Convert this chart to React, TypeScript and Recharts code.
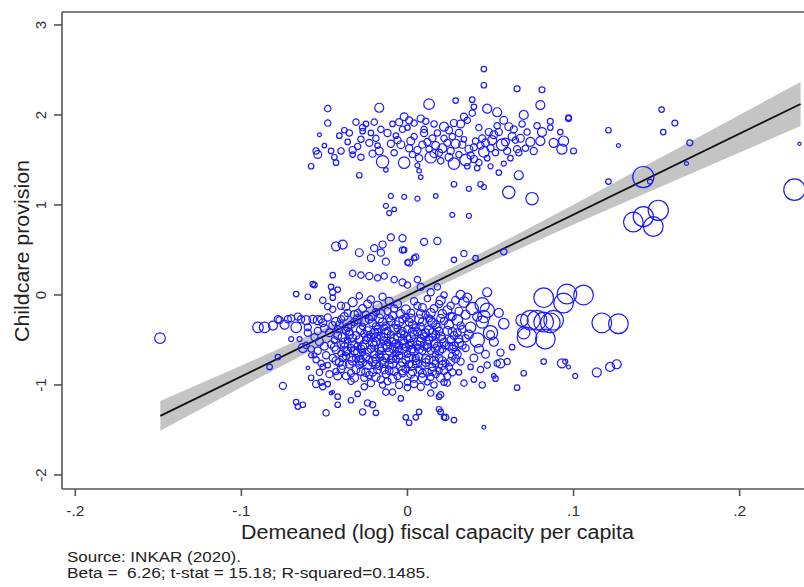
import React from 'react'
import {
  ComposedChart,
  Scatter,
  Line,
  Area,
  XAxis,
  YAxis,
  ZAxis,
  ReferenceLine,
} from 'recharts'

// [x, y, weight] — weight drives bubble area
const upperCluster: [number, number, number][] = [
  [-0.048, 2.07, 80], [-0.017, 2.08, 160], [-0.048, 1.91, 80], [0.013, 2.12, 220], [0.029, 2.16, 60],
  [0.046, 2.33, 60], [0.046, 2.51, 60], [0.066, 2.29, 70], [0.081, 2.28, 70], [0.08, 2.11, 160],
  [0.054, 2.03, 160], [0.048, 2.07, 160], [0.07, 2.0, 160], [0.086, 1.93, 70], [0.097, 1.96, 70],
  [0.1, 1.6, 70], [0.094, 1.71, 200], [0.093, 1.62, 200], [0.088, 1.69, 160], [0.08, 1.71, 160],
  [0.081, 1.81, 160], [0.086, 1.86, 60], [0.092, 1.81, 60], [0.072, 1.81, 80], [0.071, 1.63, 80],
  [0.067, 1.33, 160], [0.061, 1.14, 300], [0.075, 1.07, 300], [0.037, 0.88, 50], [0.027, 0.89, 50],
  [0.028, 1.23, 60], [0.037, 1.18, 50], [0.044, 1.23, 60], [0.046, 1.2, 50], [-0.01, 1.1, 50],
  [-0.002, 1.09, 50], [0.006, 1.07, 50], [-0.013, 0.99, 50], [-0.011, 0.91, 50], [-0.029, 1.33, 60],
  [-0.058, 1.43, 60], [-0.043, 1.47, 60], [-0.053, 1.78, 30], [-0.055, 1.6, 80], [-0.054, 1.56, 120],
  [-0.046, 1.6, 60], [-0.041, 1.77, 60], [-0.038, 1.83, 60], [-0.035, 1.8, 80], [-0.031, 1.92, 80],
  [-0.027, 1.86, 80], [-0.027, 1.82, 60], [-0.025, 1.9, 60], [-0.02, 1.92, 80], [-0.016, 1.84, 80],
  [-0.012, 1.8, 100], [-0.009, 1.9, 60], [-0.005, 1.92, 100], [-0.002, 1.98, 120], [0.001, 1.94, 100],
  [0.004, 1.91, 80], [0.008, 1.96, 100], [0.011, 1.93, 80], [-0.028, 1.73, 80], [-0.033, 1.61, 100],
  [-0.033, 1.56, 60], [-0.028, 1.53, 80], [-0.023, 1.69, 100], [-0.019, 1.74, 80], [-0.017, 1.6, 120],
  [-0.015, 1.48, 300], [-0.013, 1.39, 40], [-0.01, 1.68, 100], [-0.006, 1.72, 100], [-0.004, 1.67, 120],
  [-0.002, 1.47, 260], [0.001, 1.63, 100], [0.004, 1.76, 80], [0.006, 1.61, 100], [0.009, 1.67, 100],
  [0.01, 1.8, 100], [0.01, 1.84, 80], [0.006, 1.44, 50], [0.007, 1.38, 40], [0.008, 1.31, 40],
  [0.014, 1.53, 260], [0.016, 1.57, 120], [0.018, 1.8, 80], [0.022, 1.87, 160], [0.022, 1.74, 80],
  [0.024, 1.69, 100], [0.025, 1.53, 120], [0.028, 1.46, 260], [0.028, 1.91, 100], [0.032, 1.9, 120],
  [0.034, 1.98, 100], [0.036, 1.94, 80], [0.039, 2.17, 60], [0.04, 2.09, 60], [0.039, 2.02, 80],
  [0.033, 1.67, 100], [0.035, 1.5, 260], [0.037, 1.62, 120], [0.04, 1.64, 100], [0.04, 1.51, 100],
  [0.042, 1.41, 60], [0.043, 1.47, 80], [0.045, 1.74, 100], [0.046, 1.59, 220], [0.049, 1.81, 100],
  [0.052, 1.78, 120], [0.055, 1.81, 100], [0.057, 1.67, 260], [0.058, 1.94, 120], [0.061, 1.87, 120],
  [0.063, 1.76, 120], [0.065, 1.72, 80], [0.066, 1.62, 100], [0.067, 1.58, 80], [0.097, 1.97, 60],
  [-0.036, 1.7, 60], [-0.03, 1.65, 80], [-0.021, 1.57, 100], [-0.018, 1.66, 60], [-0.008, 1.58, 80],
  [-0.007, 1.77, 60], [-0.003, 1.84, 80], [0.002, 1.71, 120], [0.003, 1.56, 80], [0.012, 1.7, 100],
  [0.013, 1.62, 80], [0.015, 1.74, 100], [0.017, 1.66, 120], [0.019, 1.58, 100], [0.02, 1.49, 80],
  [0.021, 1.63, 160], [0.026, 1.6, 100], [0.027, 1.76, 80], [0.029, 1.68, 160], [0.031, 1.56, 80],
  [0.031, 1.8, 100], [0.034, 1.73, 60], [0.038, 1.55, 100], [0.041, 1.71, 80], [0.044, 1.66, 100],
  [0.047, 1.69, 120], [0.048, 1.52, 60], [0.05, 1.63, 100], [0.051, 1.72, 160], [0.053, 1.58, 80],
  [0.054, 1.88, 80], [0.059, 1.7, 120], [0.06, 1.6, 100], [0.062, 1.52, 60], [0.064, 1.84, 100],
  [0.068, 1.74, 120], [0.069, 1.9, 80], [0.074, 1.7, 160], [0.076, 1.6, 100], [0.078, 1.88, 80],
  [-0.044, 1.53, 60], [-0.05, 1.66, 40], [-0.04, 1.6, 80], [-0.022, 1.8, 60], [0.0, 1.86, 60],
  [0.007, 1.52, 100], [0.016, 1.9, 80], [0.025, 1.83, 100], [0.043, 1.86, 80], [0.036, 1.43, 60],
  [0.05, 1.43, 50], [0.058, 1.46, 50], [0.055, 1.36, 60], [-0.008, 0.95, 40], [0.017, 1.1, 40],
]

const middleBand: [number, number, number][] = [
  [-0.043, 0.54, 160], [-0.039, 0.56, 160], [-0.029, 0.47, 120], [-0.02, 0.52, 100], [-0.015, 0.56, 100],
  [-0.01, 0.64, 100], [-0.003, 0.63, 100], [0.01, 0.59, 100], [0.018, 0.6, 100], [-0.022, 0.41, 100],
  [-0.016, 0.47, 100], [-0.013, 0.37, 100], [-0.003, 0.5, 80], [0.001, 0.36, 100], [0.005, 0.42, 80],
  [-0.002, 0.5, 60], [0.004, 0.41, 60], [0.0, 0.36, 60], [0.028, 0.39, 60], [0.034, 0.46, 80],
  [0.041, 0.41, 60], [0.058, 0.48, 80], [-0.033, 0.24, 80], [-0.028, 0.22, 80], [-0.023, 0.21, 100],
  [-0.018, 0.19, 80], [-0.014, 0.21, 80], [-0.008, 0.17, 80], [-0.003, 0.14, 100], [0.0, 0.11, 80],
  [0.006, 0.17, 80], [0.008, 0.09, 100], [0.014, 0.03, 100], [0.018, 0.09, 80], [-0.067, 0.01, 60],
  [-0.06, -0.02, 60], [-0.057, 0.12, 60], [-0.056, 0.11, 60], [-0.045, 0.22, 60], [-0.046, 0.09, 60],
  [-0.045, 0.03, 80], [-0.051, -0.06, 80], [-0.048, -0.13, 80], [-0.045, -0.03, 60], [-0.042, 0.06, 60],
]

const leftArm: [number, number, number][] = [
  [-0.149, -0.48, 220], [-0.09, -0.36, 220], [-0.086, -0.36, 220], [-0.081, -0.34, 160], [-0.078, -0.27, 100],
  [-0.077, -0.28, 100], [-0.074, -0.33, 160], [-0.072, -0.27, 100], [-0.07, -0.26, 100], [-0.067, -0.36, 220],
  [-0.066, -0.24, 100], [-0.064, -0.27, 100], [-0.061, -0.28, 160], [-0.06, -0.36, 100], [-0.057, -0.27, 120],
  [-0.054, -0.28, 160], [-0.052, -0.27, 100], [-0.051, -0.31, 120], [-0.07, -0.49, 50], [-0.065, -0.49, 50],
  [-0.061, -0.56, 80], [-0.063, -0.59, 160], [-0.058, -0.67, 50], [-0.056, -0.67, 50], [-0.078, -0.69, 60],
  [-0.083, -0.8, 60], [-0.06, -0.81, 25], [-0.052, -0.76, 80], [-0.051, -0.8, 60], [-0.048, -0.78, 60],
  [-0.075, -1.01, 100], [-0.055, -0.99, 100], [-0.052, -0.97, 80], [-0.051, -1.02, 80], [-0.048, -0.99, 60],
  [-0.046, -1.09, 25], [-0.045, -1.08, 25], [-0.067, -1.19, 60], [-0.066, -1.24, 60], [-0.063, -1.22, 60],
  [-0.049, -1.31, 80], [-0.042, -1.13, 60], [-0.06, -0.42, 100], [-0.056, -0.47, 100], [-0.053, -0.52, 120],
  [-0.058, -0.6, 80], [-0.054, -0.62, 100], [-0.05, -0.57, 120], [-0.049, -0.67, 100], [-0.055, -0.72, 80],
  [-0.047, -0.88, 100], [-0.053, -0.86, 80], [-0.058, -0.92, 60], [-0.05, -0.37, 120], [-0.054, -0.4, 100],
]

const lowerCore: [number, number, number][] = [
  [-0.04, -0.12, 100], [-0.033, -0.08, 160], [-0.027, -0.15, 120], [-0.022, -0.05, 100], [-0.018, -0.12, 160],
  [-0.012, -0.18, 100], [-0.006, -0.1, 120], [-0.001, -0.16, 160], [0.004, -0.07, 100], [0.009, -0.14, 120],
  [0.014, -0.2, 160], [0.019, -0.1, 100], [0.024, -0.17, 160], [0.029, -0.06, 120], [-0.036, -0.2, 100],
  [-0.045, -0.16, 80], [0.012, -0.04, 80], [-0.015, -0.02, 100], [-0.029, -0.01, 80], [0.022, 0.0, 80],
  [-0.048, -0.25, 100], [-0.043, -0.3, 160], [-0.038, -0.24, 120], [-0.034, -0.33, 100], [-0.03, -0.27, 160],
  [-0.025, -0.22, 100], [-0.021, -0.31, 120], [-0.017, -0.26, 160], [-0.013, -0.34, 100], [-0.009, -0.23, 120],
  [-0.005, -0.3, 160], [-0.001, -0.25, 100], [0.003, -0.33, 120], [0.007, -0.27, 160], [0.011, -0.22, 100],
  [0.015, -0.31, 160], [0.02, -0.26, 120], [0.025, -0.33, 160], [0.03, -0.28, 220], [0.035, -0.22, 160],
  [-0.027, -0.35, 80], [-0.006, -0.37, 100], [0.018, -0.36, 120],
  [-0.047, -0.42, 120], [-0.042, -0.38, 100], [-0.039, -0.47, 160], [-0.035, -0.41, 100], [-0.031, -0.45, 120],
  [-0.028, -0.39, 160], [-0.024, -0.48, 100], [-0.02, -0.42, 160], [-0.016, -0.46, 120], [-0.012, -0.4, 100],
  [-0.008, -0.49, 160], [-0.004, -0.43, 120], [0.0, -0.38, 100], [0.002, -0.47, 160], [0.006, -0.41, 120],
  [0.01, -0.46, 100], [0.013, -0.39, 160], [0.017, -0.44, 120], [0.021, -0.49, 100], [0.024, -0.4, 160],
  [0.028, -0.45, 120], [0.033, -0.38, 100], [0.037, -0.44, 160], [-0.044, -0.5, 80], [-0.014, -0.36, 80],
  [0.008, -0.35, 100],
  [-0.046, -0.55, 100], [-0.043, -0.61, 120], [-0.038, -0.53, 160], [-0.034, -0.59, 100], [-0.03, -0.64, 120],
  [-0.026, -0.55, 160], [-0.022, -0.6, 100], [-0.019, -0.52, 120], [-0.015, -0.58, 160], [-0.011, -0.63, 100],
  [-0.007, -0.54, 120], [-0.003, -0.6, 160], [0.001, -0.56, 100], [0.004, -0.63, 120], [0.008, -0.52, 160],
  [0.012, -0.59, 100], [0.016, -0.54, 120], [0.019, -0.62, 160], [0.023, -0.56, 100], [0.027, -0.6, 120],
  [0.031, -0.53, 160], [0.035, -0.59, 100], [-0.04, -0.65, 80], [-0.017, -0.66, 100], [0.006, -0.58, 80],
  [-0.009, -0.51, 80],
  [-0.045, -0.7, 100], [-0.041, -0.75, 120], [-0.037, -0.68, 100], [-0.033, -0.73, 160], [-0.029, -0.78, 100],
  [-0.025, -0.69, 120], [-0.021, -0.74, 160], [-0.017, -0.79, 100], [-0.013, -0.7, 120], [-0.009, -0.76, 160],
  [-0.005, -0.67, 100], [-0.001, -0.72, 120], [0.003, -0.78, 160], [0.007, -0.69, 100], [0.011, -0.75, 120],
  [0.015, -0.8, 100], [0.019, -0.7, 120], [0.023, -0.76, 100], [0.027, -0.68, 120], [0.032, -0.74, 100],
  [-0.027, -0.64, 80], [0.0, -0.66, 80],
  [-0.043, -0.85, 80], [-0.037, -0.9, 100], [-0.031, -0.83, 120], [-0.026, -0.92, 100], [-0.021, -0.86, 120],
  [-0.016, -0.94, 100], [-0.011, -0.84, 120], [-0.006, -0.9, 100], [-0.001, -0.82, 120], [0.004, -0.93, 100],
  [0.009, -0.87, 120], [0.014, -0.91, 100], [0.019, -0.84, 80], [0.024, -0.9, 100], [-0.034, -0.96, 80],
  [0.0, -0.97, 80], [0.012, -0.97, 60],
  [-0.025, -0.5, 100], [-0.02, -0.66, 100], [-0.014, -0.47, 100], [-0.01, -0.72, 100], [-0.005, -0.56, 100],
  [0.0, -0.49, 100], [0.005, -0.7, 100], [0.009, -0.62, 100], [-0.03, -0.57, 100], [-0.018, -0.38, 100],
  [-0.003, -0.4, 100], [0.013, -0.5, 100], [-0.012, -0.53, 80], [-0.007, -0.65, 80], [-0.023, -0.44, 80],
  [0.002, -0.53, 80], [-0.016, -0.69, 80], [0.017, -0.66, 80], [-0.036, -0.5, 80], [-0.028, -0.71, 80],
]

const lowerCoreFill: [number, number, number][] = [
  [-0.037, -0.13, 120], [-0.03, -0.2, 100], [-0.024, -0.1, 120], [-0.019, -0.19, 100], [-0.011, -0.07, 120],
  [-0.008, -0.15, 100], [0.002, -0.2, 120], [0.006, -0.12, 100], [0.016, -0.15, 120], [0.026, -0.12, 100],
  [0.031, -0.18, 120],
  [-0.045, -0.34, 120], [-0.04, -0.27, 100], [-0.036, -0.36, 120], [-0.032, -0.3, 100], [-0.023, -0.27, 120],
  [-0.019, -0.35, 100], [-0.015, -0.3, 120], [-0.011, -0.26, 100], [-0.007, -0.33, 120], [-0.003, -0.27, 100],
  [0.001, -0.3, 120], [0.005, -0.36, 100], [0.009, -0.3, 120], [0.013, -0.26, 100], [0.017, -0.33, 120],
  [0.022, -0.29, 100], [0.027, -0.24, 120], [0.032, -0.34, 100],
  [-0.042, -0.45, 120], [-0.037, -0.4, 100], [-0.033, -0.48, 120], [-0.026, -0.43, 100], [-0.022, -0.47, 120],
  [-0.018, -0.41, 100], [-0.014, -0.51, 120], [-0.01, -0.44, 100], [-0.006, -0.47, 120], [-0.002, -0.44, 100],
  [0.004, -0.44, 120], [0.008, -0.48, 100], [0.011, -0.42, 120], [0.015, -0.47, 100], [0.019, -0.4, 120],
  [0.026, -0.5, 100], [0.03, -0.42, 120], [0.035, -0.48, 100],
  [-0.044, -0.58, 120], [-0.04, -0.55, 100], [-0.036, -0.62, 120], [-0.032, -0.55, 100], [-0.028, -0.6, 120],
  [-0.024, -0.63, 100], [-0.02, -0.56, 120], [-0.016, -0.62, 100], [-0.013, -0.56, 120], [-0.009, -0.6, 100],
  [-0.005, -0.62, 120], [-0.001, -0.58, 100], [0.003, -0.6, 120], [0.006, -0.55, 100], [0.01, -0.57, 120],
  [0.014, -0.62, 100], [0.018, -0.57, 120], [0.021, -0.6, 100], [0.025, -0.57, 120], [0.029, -0.63, 100],
  [0.033, -0.56, 120],
  [-0.043, -0.73, 120], [-0.039, -0.7, 100], [-0.035, -0.77, 120], [-0.031, -0.7, 100], [-0.027, -0.75, 120],
  [-0.023, -0.72, 100], [-0.019, -0.77, 120], [-0.015, -0.73, 100], [-0.011, -0.78, 120], [-0.007, -0.71, 100],
  [-0.003, -0.75, 120], [0.001, -0.77, 100], [0.005, -0.73, 120], [0.009, -0.78, 100], [0.013, -0.72, 120],
  [0.017, -0.76, 100], [0.021, -0.73, 120], [0.025, -0.8, 100], [0.029, -0.71, 120],
  [-0.04, -0.82, 120], [-0.034, -0.87, 100], [-0.028, -0.85, 120], [-0.023, -0.89, 100], [-0.018, -0.83, 120],
  [-0.013, -0.88, 100], [-0.008, -0.85, 120], [-0.003, -0.87, 100], [0.002, -0.88, 120], [0.007, -0.83, 100],
  [0.012, -0.86, 120], [0.017, -0.88, 100], [0.022, -0.84, 120], [0.027, -0.86, 100],
  [-0.022, -0.98, 100], [-0.012, -0.96, 100], [-0.005, -1.0, 100], [0.004, -0.99, 100], [0.016, -1.0, 80],
]

// densest part of the lower group
const lowerCoreDense: [number, number, number][] = [
  [-0.032, -0.22, 140], [-0.026, -0.29, 140], [-0.021, -0.24, 140], [-0.016, -0.21, 140], [-0.01, -0.29, 140],
  [-0.004, -0.21, 140], [0.002, -0.26, 140], [0.008, -0.21, 140], [0.014, -0.28, 140], [0.021, -0.21, 140],
  [-0.035, -0.44, 140], [-0.029, -0.5, 140], [-0.024, -0.4, 140], [-0.019, -0.47, 140], [-0.013, -0.43, 140],
  [-0.008, -0.38, 140], [-0.003, -0.5, 140], [0.003, -0.41, 140], [0.009, -0.44, 140], [0.015, -0.42, 140],
  [0.02, -0.46, 140], [0.027, -0.41, 140],
  [-0.038, -0.58, 140], [-0.032, -0.62, 140], [-0.027, -0.58, 140], [-0.021, -0.53, 140], [-0.017, -0.6, 140],
  [-0.012, -0.58, 140], [-0.006, -0.59, 140], [-0.002, -0.54, 140], [0.002, -0.62, 140], [0.007, -0.6, 140],
  [0.012, -0.55, 140], [0.017, -0.6, 140], [0.022, -0.53, 140], [0.028, -0.57, 140],
  [-0.039, -0.78, 140], [-0.034, -0.7, 140], [-0.029, -0.73, 140], [-0.024, -0.78, 140], [-0.019, -0.71, 140],
  [-0.014, -0.76, 140], [-0.009, -0.7, 140], [-0.004, -0.79, 140], [0.001, -0.7, 140], [0.006, -0.76, 140],
  [0.011, -0.71, 140], [0.016, -0.73, 140], [0.021, -0.78, 140], [0.026, -0.74, 140],
  [-0.032, -0.92, 140], [-0.025, -0.86, 140], [-0.019, -0.91, 140], [-0.014, -0.83, 140], [-0.009, -0.93, 140],
  [-0.003, -0.84, 140], [0.003, -0.85, 140], [0.009, -0.92, 140], [0.015, -0.85, 140], [0.02, -0.92, 140],
  [-0.041, -0.33, 120], [-0.037, -0.63, 120], [-0.042, -0.9, 120], [0.031, -0.49, 120], [0.03, -0.66, 120],
]

const lowerRight: [number, number, number][] = [
  [0.032, 0.0, 160], [0.036, -0.03, 160], [0.048, 0.03, 160], [0.045, -0.11, 400], [0.048, -0.17, 400],
  [0.042, -0.24, 160], [0.026, -0.24, 120], [0.05, -0.42, 400], [0.042, -0.5, 400], [0.052, -0.52, 160],
  [0.054, -0.76, 80], [0.048, -0.78, 80], [0.044, -0.83, 80], [0.038, -0.8, 60], [0.031, -0.86, 60],
  [0.069, -0.28, 300], [0.07, -0.42, 300], [0.034, -0.08, 220], [0.039, -0.15, 300], [0.045, -0.3, 300],
  [0.038, -0.36, 220], [0.043, -0.6, 160], [0.047, -0.66, 120], [0.04, -0.7, 120], [0.055, -0.2, 160],
  [0.058, -0.32, 220], [0.056, -0.64, 100], [0.06, -0.74, 80], [0.063, -0.58, 60], [0.052, -0.9, 40],
  [0.02, -0.06, 160], [0.046, -0.24, 300], [0.05, -0.44, 120], [0.053, -0.93, 60],
]

const lowerTail: [number, number, number][] = [
  [0.001, -1.42, 60], [0.005, -1.36, 60], [0.007, -1.3, 60], [0.02, -1.3, 60], [0.023, -1.36, 80],
  [0.028, -1.39, 60], [0.046, -1.47, 30], [-0.027, -1.3, 80], [-0.024, -1.2, 80], [-0.021, -1.22, 80],
  [-0.042, -1.22, 60], [-0.034, -1.17, 60], [-0.013, -1.08, 80], [-0.009, -1.08, 80], [0.0, -1.03, 80],
  [0.014, -1.09, 80], [0.02, -1.11, 80], [0.024, -0.98, 80], [0.034, -0.98, 80], [0.04, -0.94, 60],
  [0.045, -1.0, 80], [0.019, -1.13, 60], [0.022, -0.97, 80], [-0.019, -1.31, 60], [-0.004, -1.15, 60],
  [-0.015, -1.0, 80], [0.008, -1.02, 100], [-0.026, -1.02, 80], [-0.03, -1.1, 60], [0.019, -1.27, 60],
  [0.022, -1.36, 60], [-0.001, -1.36, 60],
]

const bigCircles: [number, number, number][] = [
  [0.082, -0.03, 760], [0.094, -0.09, 760], [0.096, 0.01, 760], [0.106, 0.0, 760], [0.074, -0.28, 760],
  [0.078, -0.28, 760], [0.082, -0.3, 760], [0.088, -0.28, 760], [0.086, -0.31, 760], [0.072, -0.47, 760],
  [0.083, -0.49, 760], [0.117, -0.31, 760], [0.127, -0.32, 760], [0.136, 0.81, 760], [0.142, 0.87, 800],
  [0.151, 0.94, 800], [0.148, 0.76, 760], [0.142, 1.31, 880], [0.233, 1.17, 900],
]

const sparseRight: [number, number, number][] = [
  [0.082, -0.74, 60], [0.093, -0.76, 160], [0.095, -0.74, 50], [0.097, -0.8, 30], [0.07, -0.87, 60],
  [0.101, -0.9, 50], [0.114, -0.86, 160], [0.122, -0.8, 160], [0.126, -0.77, 160], [0.066, -1.03, 60],
  [0.056, -0.76, 160], [0.121, 1.83, 60], [0.153, 2.06, 60], [0.161, 1.91, 70], [0.154, 1.81, 60],
  [0.127, 1.66, 30], [0.17, 1.69, 70], [0.168, 1.46, 30], [0.236, 1.68, 20], [0.121, 1.26, 60],
  [0.146, 1.26, 50],
]

// fitted line and 95% band
const fitX = [-0.1488, 0.2367]
const fitY = [-1.344, 2.122]
const bandX = [-0.1488, -0.1, -0.05, 0, 0.05, 0.1, 0.15, 0.2367]
const bandLo = [-1.509, -1.025, -0.541, -0.071, 0.368, 0.783, 1.182, 1.877]
const bandHi = [-1.179, -0.785, -0.371, 0.059, 0.518, 1.003, 1.502, 2.367]

const xTicks = [-0.2, -0.1, 0, 0.1, 0.2]
const xTickLabels = ['-.2', '-.1', '0', '.1', '.2']
const yTicks = [-2, -1, 0, 1, 2, 3]

const FONT = "'Liberation Sans', Arial, Helvetica, sans-serif"
const AXIS = '#555'

const points = [
  ...upperCluster, ...middleBand, ...leftArm, ...lowerCore, ...lowerCoreFill, ...lowerCoreDense,
  ...lowerRight, ...lowerTail, ...bigCircles, ...sparseRight,
].map(([x, y, w]) => ({ x, y, w }))

const bandData = bandX.map((x, i) => ({ x, band: [bandLo[i], bandHi[i]] }))
const fitData = fitX.map((x, i) => ({ x, y: fitY[i] }))

function YTick(props: any) {
  const { x, y, payload } = props
  const bx = x - 6
  return (
    <text
      x={bx}
      y={y}
      transform={`rotate(-90, ${bx}, ${y})`}
      textAnchor="middle"
      fontSize={15}
      fontFamily={FONT}
      fill="#333"
    >
      {payload.value}
    </text>
  )
}

export default function App() {
  return (
    <div style={{ position: 'absolute', left: 0, top: 0, width: 804, height: 587, overflow: 'hidden', background: '#fff' }}>
      <ComposedChart width={840} height={587} margin={{ top: 12, right: 9, bottom: 0, left: 0 }}>
        <XAxis
          type="number"
          dataKey="x"
          domain={[-0.208, 0.255]}
          ticks={xTicks}
          tickFormatter={(v: number) => xTickLabels[xTicks.indexOf(v)] ?? String(v)}
          allowDataOverflow
          height={98}
          tickSize={7}
          tickMargin={9}
          tick={{ fontSize: 15.5, fontFamily: FONT, fill: '#333' }}
          axisLine={{ stroke: AXIS, strokeWidth: 1.6 }}
          tickLine={{ stroke: AXIS, strokeWidth: 1.6 }}
        />
        <YAxis
          type="number"
          dataKey="y"
          domain={[-2.156, 3.144]}
          ticks={yTicks}
          allowDataOverflow
          width={62}
          tickSize={8}
          tick={<YTick />}
          axisLine={{ stroke: AXIS, strokeWidth: 1.6 }}
          tickLine={{ stroke: AXIS, strokeWidth: 1.6 }}
        />
        <ZAxis type="number" dataKey="w" domain={[0, 1000]} range={[0, 400]} />
        <ReferenceLine y={3.144} stroke={AXIS} strokeWidth={1.6} />
        <Area
          data={bandData}
          dataKey="band"
          type="linear"
          fill="#c4c4c4"
          fillOpacity={1}
          stroke="none"
          isAnimationActive={false}
        />
        <Scatter
          data={points}
          fill="none"
          stroke="#1a1aff"
          strokeWidth={1.2}
          isAnimationActive={false}
        />
        <Line
          data={fitData}
          dataKey="y"
          type="linear"
          stroke="#111"
          strokeWidth={1.8}
          dot={false}
          isAnimationActive={false}
        />
      </ComposedChart>
      <svg width={804} height={587} style={{ position: 'absolute', left: 0, top: 0, pointerEvents: 'none' }}>
        <text
          x={29}
          y={251}
          transform="rotate(-90, 29, 251)"
          textAnchor="middle"
          fontSize={20.5}
          fontFamily={FONT}
          fill="#222"
          textLength={182}
          lengthAdjust="spacingAndGlyphs"
        >
          Childcare provision
        </text>
        <text
          x={437.5}
          y={539}
          textAnchor="middle"
          fontSize={20}
          fontFamily={FONT}
          fill="#222"
          textLength={393}
          lengthAdjust="spacingAndGlyphs"
        >
          Demeaned (log) fiscal capacity per capita
        </text>
        <text x={67} y={562} fontSize={14} fontFamily={FONT} fill="#222" textLength={174} lengthAdjust="spacingAndGlyphs">
          Source: INKAR (2020).
        </text>
        <text
          x={67}
          y={578}
          fontSize={14}
          fontFamily={FONT}
          fill="#222"
          textLength={363}
          lengthAdjust="spacingAndGlyphs"
          style={{ whiteSpace: 'pre' }}
        >
          {'Beta =  6.26; t-stat = 15.18; R-squared=0.1485.'}
        </text>
      </svg>
    </div>
  )
}
